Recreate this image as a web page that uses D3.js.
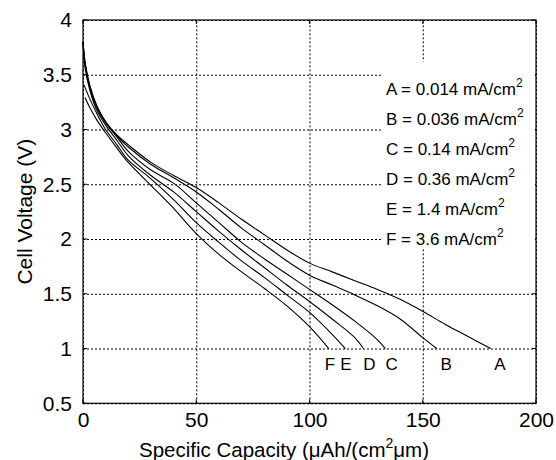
<!DOCTYPE html>
<html>
<head>
<meta charset="utf-8">
<script src="https://cdn.jsdelivr.net/npm/d3@7"></script>
<style>
  body { margin: 0; background: #fff; }
  text { font-family: "Liberation Sans", Arial, sans-serif; fill: #000; }
  .grid line { stroke: #000; stroke-width: 1; stroke-dasharray: 2,2; }
  .grid path { display: none; }
  .axis path, .axis line { display: none; }
</style>
</head>
<body>
<div id="chart"></div>
<script>
// discharge curves, capacity (uAh/(cm2 um)) vs voltage (V)
var capA = [0, 1, 3, 6, 10, 15, 20, 30, 40, 50, 60, 70, 80, 90, 100, 110, 120, 130, 140, 150, 160, 170, 180];
var voltA = [3.8, 3.6, 3.4, 3.22, 3.07, 2.95, 2.86, 2.7, 2.58, 2.47, 2.33, 2.18, 2.04, 1.9, 1.78, 1.7, 1.62, 1.54, 1.45, 1.34, 1.22, 1.11, 1.0];
var capB = [0, 1, 3, 6, 10, 15, 20, 30, 40, 50, 60, 70, 80, 90, 100, 110, 120, 130, 140, 150, 156.2];
var voltB = [3.8, 3.6, 3.4, 3.22, 3.07, 2.94, 2.84, 2.68, 2.56, 2.43, 2.27, 2.1, 1.95, 1.8, 1.67, 1.58, 1.49, 1.39, 1.27, 1.1, 1.0];
var capC = [0, 1, 3, 6, 10, 15, 20, 30, 40, 50, 60, 70, 80, 90, 100, 110, 120, 130, 133.5];
var voltC = [3.8, 3.58, 3.38, 3.2, 3.06, 2.93, 2.8, 2.63, 2.51, 2.33, 2.15, 1.97, 1.82, 1.68, 1.54, 1.4, 1.25, 1.08, 1.0];
var capD = [0, 1, 3, 6, 10, 15, 20, 30, 40, 50, 60, 70, 80, 90, 100, 110, 120, 123.8];
var voltD = [3.8, 3.55, 3.36, 3.18, 3.04, 2.9, 2.76, 2.58, 2.43, 2.25, 2.07, 1.9, 1.74, 1.58, 1.43, 1.27, 1.1, 1.0];
var capE = [0.4, 3, 6, 10, 15, 20, 30, 40, 50, 60, 70, 80, 90, 100, 110, 115.8];
var voltE = [3.41, 3.28, 3.15, 3.0, 2.86, 2.72, 2.55, 2.36, 2.15, 1.97, 1.8, 1.65, 1.49, 1.33, 1.13, 1.0];
var capF = [0.9, 3, 6, 10, 15, 20, 30, 40, 50, 60, 70, 80, 90, 100, 108.5];
var voltF = [3.29, 3.2, 3.09, 2.97, 2.83, 2.7, 2.49, 2.28, 2.05, 1.86, 1.7, 1.55, 1.39, 1.2, 1.0];

var curveNames = ['A', 'B', 'C', 'D', 'E', 'F'];
var currentDensity = ['0.014', '0.036', '0.14', '0.36', '1.4', '3.6'];
// where the curve letters sit under the ends of the curves
var labelCap = [184.1, 160.3, 136.3, 126.4, 116.1, 109];
var labelVolt = 0.8;

var xTicks = [0, 50, 100, 150, 200];
var yTicks = [0.5, 1, 1.5, 2, 2.5, 3, 3.5, 4];

var margin = { top: 20, left: 83, right: 20, bottom: 57 };
var width = 556;
var height = 460;

var svg = d3.select('#chart')
  .append('svg')
  .attr('width', width)
  .attr('height', height)
  .append('g')
  .attr('transform', 'translate(' + margin.left + ',' + margin.top + ')');

width = 536 - margin.left;
height = 403.3 - margin.top;

var x = d3.scaleLinear().domain([0, 200]).range([0, width]);
var y = d3.scaleLinear().domain([0.5, 4]).range([height, 0]);

// gridlines
svg.append('g')
  .attr('class', 'grid')
  .attr('transform', 'translate(0,' + height + ')')
  .call(d3.axisBottom(x).tickValues(xTicks).tickSize(-height).tickFormat(''));
svg.append('g')
  .attr('class', 'grid')
  .call(d3.axisLeft(y).tickValues(yTicks).tickSize(-width).tickFormat(''));

// tick labels
svg.append('g')
  .attr('class', 'axis')
  .attr('transform', 'translate(0,' + height + ')')
  .call(d3.axisBottom(x).tickValues(xTicks).tickSize(0).tickPadding(9).tickFormat(d3.format('d')))
  .selectAll('text').style('font-size', '21px').attr('font-family', null);
svg.append('g')
  .attr('class', 'axis')
  .call(d3.axisLeft(y).tickValues(yTicks).tickSize(0).tickPadding(11).tickFormat(function(d) { return d; }))
  .selectAll('text').style('font-size', '21px').attr('font-family', null);

// small inward ticks on all four sides
var tickLen = 4;
xTicks.forEach(function(t) {
  svg.append('line').attr('x1', x(t)).attr('x2', x(t)).attr('y1', height).attr('y2', height - tickLen).attr('stroke', '#000');
  svg.append('line').attr('x1', x(t)).attr('x2', x(t)).attr('y1', 0).attr('y2', tickLen).attr('stroke', '#000');
});
yTicks.forEach(function(t) {
  svg.append('line').attr('x1', 0).attr('x2', tickLen).attr('y1', y(t)).attr('y2', y(t)).attr('stroke', '#000');
  svg.append('line').attr('x1', width).attr('x2', width - tickLen).attr('y1', y(t)).attr('y2', y(t)).attr('stroke', '#000');
});

// legend box masks the grid
var legendTop = y(3.62);
svg.append('rect')
  .attr('x', 300)
  .attr('y', legendTop)
  .attr('width', width - 301)
  .attr('height', 187)
  .attr('fill', '#fff');

var caps = [capA, capB, capC, capD, capE, capF];
var volts = [voltA, voltB, voltC, voltD, voltE, voltF];
var series = caps.map(function(c, i) {
  return c.map(function(v, j) { return { cap: v, volt: volts[i][j] }; });
});

var line = d3.line()
  .curve(d3.curveCatmullRom)
  .x(function(d) { return x(d.cap); })
  .y(function(d) { return y(d.volt); });

svg.selectAll('.line')
  .data(series)
  .enter()
  .append('path')
  .attr('class', 'line')
  .attr('fill', 'none')
  .attr('stroke', '#000')
  .attr('stroke-width', 1.1)
  .attr('d', line);

// curve letters
svg.selectAll('.curve-label')
  .data(curveNames)
  .enter()
  .append('text')
  .attr('class', 'curve-label')
  .attr('x', function(d, i) { return x(labelCap[i]); })
  .attr('y', y(labelVolt))
  .attr('text-anchor', 'middle')
  .style('font-size', '17px')
  .text(function(d) { return d; });

// legend text
var legend = svg.selectAll('.legend')
  .data(curveNames)
  .enter()
  .append('text')
  .attr('class', 'legend')
  .attr('x', 303)
  .attr('y', function(d, i) { return 75 + i * 30; })
  .style('font-size', '17px');
legend.append('tspan').text(function(d, i) { return d + ' = ' + currentDensity[i] + ' mA/cm'; });
legend.append('tspan').attr('dy', -8).style('font-size', '12px').text('2');

// frame
svg.append('rect')
  .attr('width', width)
  .attr('height', height)
  .attr('fill', 'none')
  .attr('stroke', '#000')
  .attr('stroke-width', 1.2);

// axis titles
var xTitle = svg.append('text')
  .attr('x', 201)
  .attr('y', height + 54)
  .attr('text-anchor', 'middle')
  .style('font-size', '20.5px');
xTitle.append('tspan').text('Specific Capacity (\u03bcAh/(cm');
xTitle.append('tspan').attr('dy', -9).style('font-size', '14px').text('2');
xTitle.append('tspan').attr('dy', 9).text('\u03bcm)');

svg.append('text')
  .attr('transform', 'rotate(-90)')
  .attr('x', -height / 2)
  .attr('y', -margin.left + 32)
  .attr('text-anchor', 'middle')
  .style('font-size', '21px')
  .text('Cell Voltage (V)');
</script>
</body>
</html>
